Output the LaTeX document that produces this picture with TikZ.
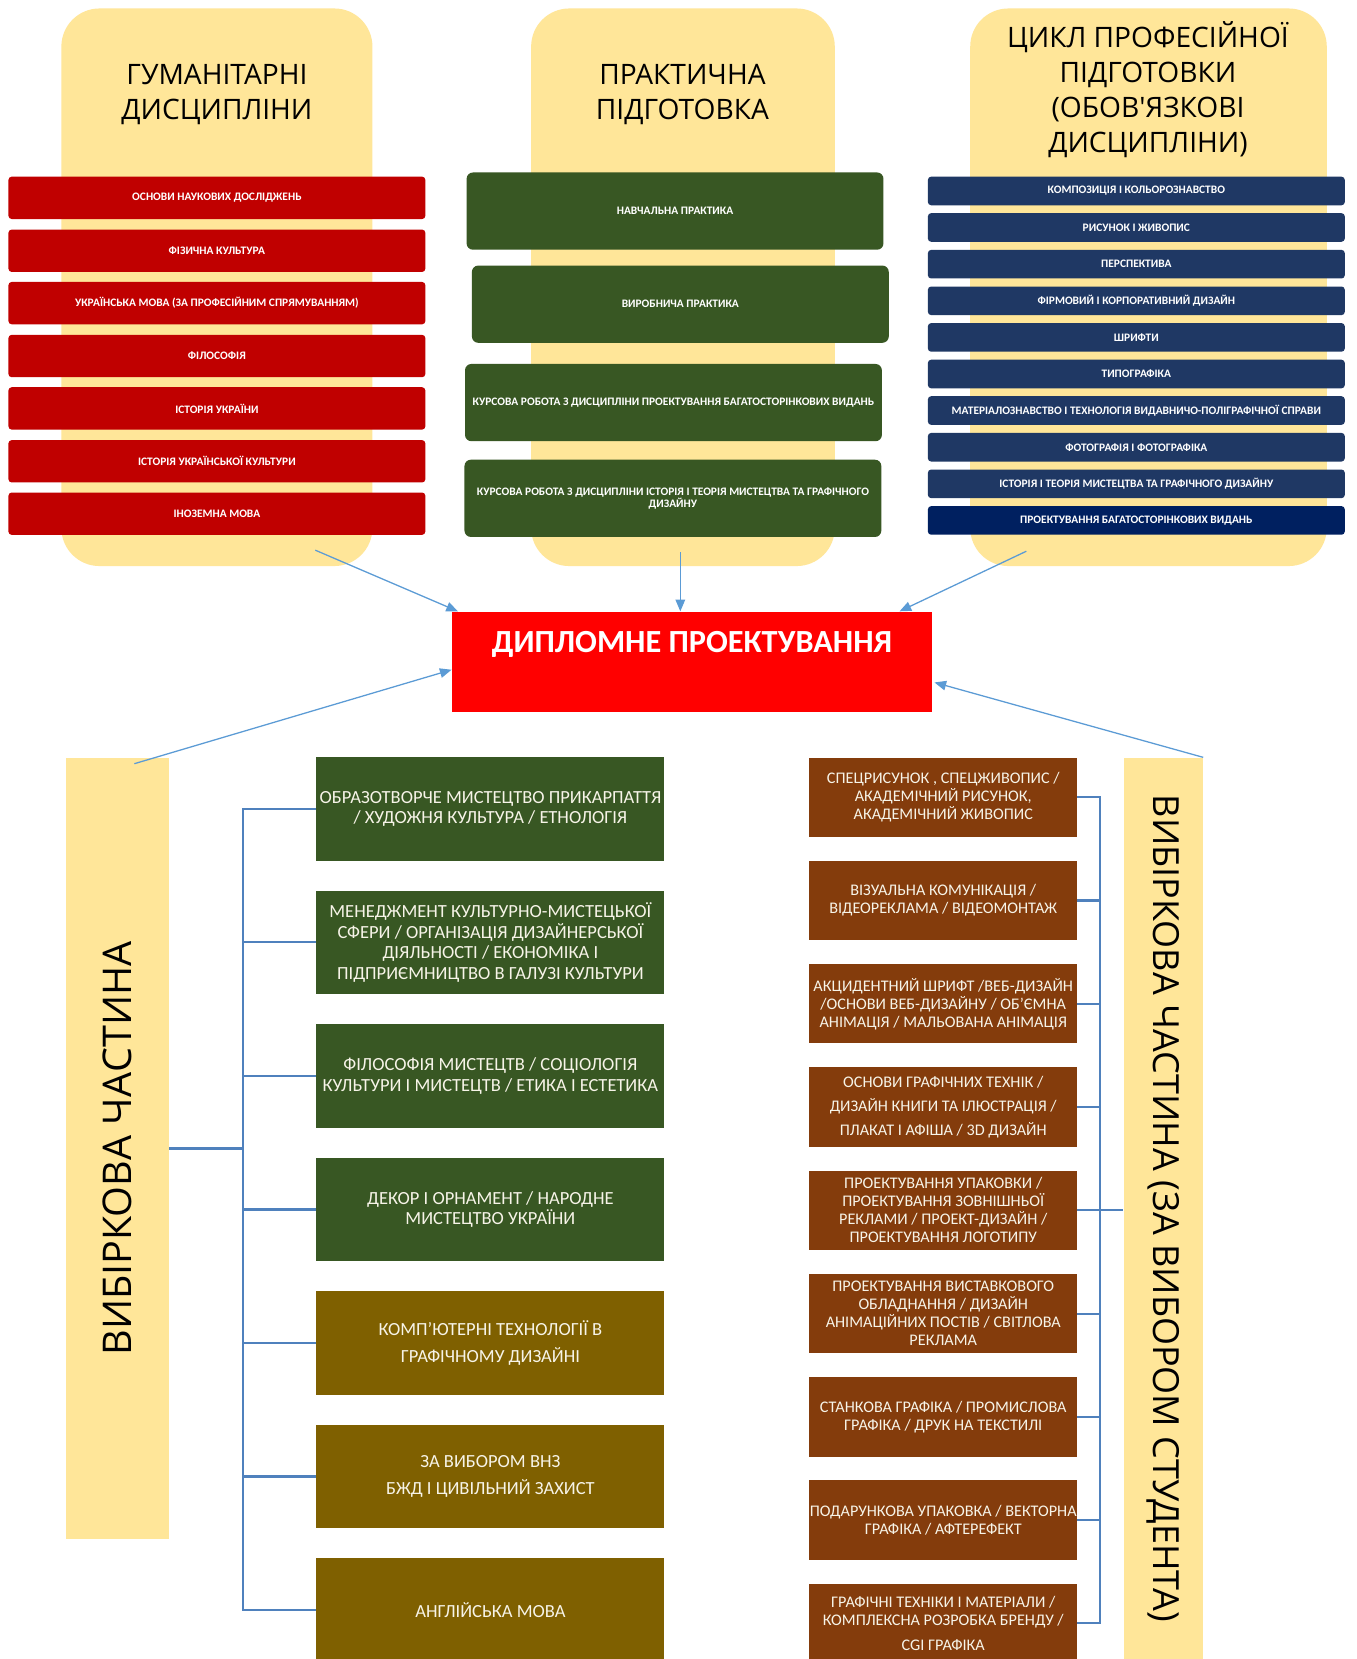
\documentclass[tikz,border=0pt]{standalone}
\usepackage{fontspec}
\setmainfont{Carlito}
\newfontfamily\headfont{Open Sans}
\usepackage{graphicx}
\usepackage{tikz}
\usetikzlibrary{shapes,arrows.meta,positioning,calc}
\definecolor{panelcream}{RGB}{255,230,153}
\definecolor{humred}{RGB}{192,0,0}
\definecolor{pracgreen}{RGB}{56,87,35}
\definecolor{profnavy}{RGB}{31,56,100}
\definecolor{profdark}{RGB}{0,32,96}
\definecolor{diplred}{RGB}{255,0,0}
\definecolor{electolive}{RGB}{127,96,0}
\definecolor{electbrown}{RGB}{132,60,12}
\definecolor{arrowblue}{RGB}{91,155,213}
\definecolor{treeblue}{RGB}{79,129,189}
\definecolor{boxtext}{RGB}{247,244,232}

\tikzset{
  panel/.style={rectangle, rounded corners=36pt, fill=panelcream, inner sep=0pt},
  sidebar/.style={rectangle, fill=panelcream, inner sep=0pt, font=\headfont\fontsize{37.4}{40}\selectfont},
  paneltitle/.style={align=center, font=\headfont\fontsize{26.6}{33}\selectfont},
  smallbar/.style={rectangle, rounded corners=3pt, minimum width=394pt, inner sep=0pt, text=white, align=center, font=\bfseries\fontsize{10.8}{11.5}\selectfont},
  redbar/.style={smallbar, fill=humred, minimum height=40pt},
  navybar/.style={smallbar, fill=profnavy, minimum height=27pt},
  greenbar/.style={smallbar, fill=pracgreen, rounded corners=6pt, minimum height=73pt},
  diplbox/.style={rectangle, fill=diplred, minimum width=454pt, minimum height=95pt, inner sep=0pt, text height=22pt, text depth=39pt, text=white, font=\bfseries\fontsize{30.5}{34}\selectfont},
  leftbox/.style={rectangle, minimum width=329pt, minimum height=98pt, inner sep=0pt, align=center, text=boxtext, font=\fontsize{17.5}{19.3}\selectfont},
  rightbox/.style={rectangle, fill=electbrown, minimum width=253pt, minimum height=75pt, inner sep=0pt, align=center, text=boxtext, font=\fontsize{15.3}{17}\selectfont},
  treeline/.style={draw=treeblue, line width=2pt},
  flowarrow/.style={draw=arrowblue, line width=1.2pt, -{Triangle[length=11pt,width=9pt]}}
}

\begin{document}
\begin{tikzpicture}[x=1pt, y=-1pt]
    \path[fill=white, use as bounding box] (0,0) rectangle (1282,1568);

    % Top panels
    \node[panel, minimum width=294pt, minimum height=527pt] (humpanel) at (205,271.5) {};
    \node[panel, minimum width=287pt, minimum height=527pt] (pracpanel) at (645.5,271.5) {};
    \node[panel, minimum width=337pt, minimum height=527pt] (profpanel) at (1085.5,271.5) {};

    \node[paneltitle] (humtitle) at (205,89) {ГУМАНІТАРНІ\\ДИСЦИПЛІНИ};
    \node[paneltitle] (practitle) at (645,89) {ПРАКТИЧНА\\ПІДГОТОВКА};
    \node[paneltitle] (proftitle) at (1085,85) {ЦИКЛ ПРОФЕСІЙНОЇ\\ПІДГОТОВКИ\\(ОБОВ'ЯЗКОВІ\\ДИСЦИПЛІНИ)};

    % Humanities
    \node[redbar] (hum1) at (205,187) {ОСНОВИ НАУКОВИХ ДОСЛІДЖЕНЬ};
    \node[redbar] (hum2) at (205,237) {ФІЗИЧНА КУЛЬТУРА};
    \node[redbar] (hum3) at (205,286.5) {УКРАЇНСЬКА МОВА (ЗА ПРОФЕСІЙНИМ СПРЯМУВАННЯМ)};
    \node[redbar] (hum4) at (205,336.5) {ФІЛОСОФІЯ};
    \node[redbar] (hum5) at (205,386) {ІСТОРІЯ УКРАЇНИ};
    \node[redbar] (hum6) at (205,436) {ІСТОРІЯ УКРАЇНСЬКОЇ КУЛЬТУРИ};
    \node[redbar] (hum7) at (205,485.5) {ІНОЗЕМНА МОВА};

    % Practice
    \node[greenbar] (prac1) at (638,199.5) {НАВЧАЛЬНА ПРАКТИКА};
    \node[greenbar] (prac2) at (643,287.5) {ВИРОБНИЧА ПРАКТИКА};
    \node[greenbar] (prac3) at (636.5,380.5) {КУРСОВА РОБОТА З ДИСЦИПЛІНИ ПРОЕКТУВАННЯ БАГАТОСТОРІНКОВИХ ВИДАНЬ};
    \node[greenbar] (prac4) at (636,471) {КУРСОВА РОБОТА З ДИСЦИПЛІНИ ІСТОРІЯ І ТЕОРІЯ МИСТЕЦТВА ТА ГРАФІЧНОГО\\ДИЗАЙНУ};

    % Professional cycle
    \node[navybar] (prof1) at (1074,180.5) {КОМПОЗИЦІЯ І КОЛЬОРОЗНАВСТВО};
    \node[navybar] (prof2) at (1074,215) {РИСУНОК І ЖИВОПИС};
    \node[navybar] (prof3) at (1074,249.7) {ПЕРСПЕКТИВА};
    \node[navybar] (prof4) at (1074,284.3) {ФІРМОВИЙ І КОРПОРАТИВНИЙ ДИЗАЙН};
    \node[navybar] (prof5) at (1074,318.9) {ШРИФТИ};
    \node[navybar] (prof6) at (1074,353.5) {ТИПОГРАФІКА};
    \node[navybar] (prof7) at (1074,388) {МАТЕРІАЛОЗНАВСТВО І ТЕХНОЛОГІЯ ВИДАВНИЧО-ПОЛІГРАФІЧНОЇ СПРАВИ};
    \node[navybar] (prof8) at (1074,422.7) {ФОТОГРАФІЯ І ФОТОГРАФІКА};
    \node[navybar] (prof9) at (1074,457.3) {ІСТОРІЯ І ТЕОРІЯ МИСТЕЦТВА ТА ГРАФІЧНОГО ДИЗАЙНУ};
    \node[navybar, fill=profdark] (prof10) at (1074,491.9) {ПРОЕКТУВАННЯ БАГАТОСТОРІНКОВИХ ВИДАНЬ};

    % Diploma
    \node[diplbox] (diploma) at (654,625.5) {ДИПЛОМНЕ ПРОЕКТУВАННЯ};

    % Side bars
    \node[sidebar, minimum width=98pt, minimum height=739pt] (leftbar) at (111,1085.5) {\rotatebox{90}{ВИБІРКОВА ЧАСТИНА}};
    \node[sidebar, minimum width=75pt, minimum height=852pt, font=\headfont\fontsize{34}{38}\selectfont] (rightbar) at (1099.5,1142) {\rotatebox{-90}{ВИБІРКОВА ЧАСТИНА (ЗА ВИБОРОМ СТУДЕНТА)}};

    % Elective part, left
    \node[leftbox, fill=pracgreen] (elect1) at (463.5,764.5) {ОБРАЗОТВОРЧЕ МИСТЕЦТВО ПРИКАРПАТТЯ\\/ ХУДОЖНЯ КУЛЬТУРА / ЕТНОЛОГІЯ};
    \node[leftbox, fill=pracgreen] (elect2) at (463.5,890.7) {МЕНЕДЖМЕНТ КУЛЬТУРНО-МИСТЕЦЬКОЇ\\СФЕРИ / ОРГАНІЗАЦІЯ ДИЗАЙНЕРСЬКОЇ\\ДІЯЛЬНОСТІ / ЕКОНОМІКА І\\ПІДПРИЄМНИЦТВО В ГАЛУЗІ КУЛЬТУРИ};
    \node[leftbox, fill=pracgreen] (elect3) at (463.5,1016.9) {ФІЛОСОФІЯ МИСТЕЦТВ / СОЦІОЛОГІЯ\\КУЛЬТУРИ І МИСТЕЦТВ / ЕТИКА І ЕСТЕТИКА};
    \node[leftbox, fill=pracgreen] (elect4) at (463.5,1143.1) {ДЕКОР І ОРНАМЕНТ / НАРОДНЕ\\МИСТЕЦТВО УКРАЇНИ};
    \node[leftbox, fill=electolive] (elect5) at (463.5,1269.3) {КОМП'ЮТЕРНІ ТЕХНОЛОГІЇ  В\\[7pt]ГРАФІЧНОМУ ДИЗАЙНІ};
    \node[leftbox, fill=electolive] (elect6) at (463.5,1395.5) {ЗА ВИБОРОМ ВНЗ\\[7pt]БЖД І ЦИВІЛЬНИЙ ЗАХИСТ};
    \node[leftbox, fill=electolive] (elect7) at (463.5,1521.7) {АНГЛІЙСЬКА МОВА};

    % Elective part, right
    \node[rightbox] (spec1) at (891.5,753.5) {СПЕЦРИСУНОК , СПЕЦЖИВОПИС /\\АКАДЕМІЧНИЙ РИСУНОК,\\АКАДЕМІЧНИЙ ЖИВОПИС};
    \node[rightbox] (spec2) at (891.5,851.1) {ВІЗУАЛЬНА КОМУНІКАЦІЯ /\\ВІДЕОРЕКЛАМА / ВІДЕОМОНТАЖ};
    \node[rightbox] (spec3) at (891.5,948.7) {АКЦИДЕНТНИЙ ШРИФТ /ВЕБ-ДИЗАЙН\\/ОСНОВИ ВЕБ-ДИЗАЙНУ / ОБ'ЄМНА\\АНІМАЦІЯ / МАЛЬОВАНА АНІМАЦІЯ};
    \node[rightbox] (spec4) at (891.5,1046.3) {ОСНОВИ ГРАФІЧНИХ ТЕХНІК /\\[6pt]ДИЗАЙН КНИГИ ТА ІЛЮСТРАЦІЯ /\\[6pt]ПЛАКАТ І АФІША / 3D ДИЗАЙН};
    \node[rightbox] (spec5) at (891.5,1143.9) {ПРОЕКТУВАННЯ УПАКОВКИ /\\ПРОЕКТУВАННЯ ЗОВНІШНЬОЇ\\РЕКЛАМИ / ПРОЕКТ-ДИЗАЙН /\\ПРОЕКТУВАННЯ ЛОГОТИПУ};
    \node[rightbox] (spec6) at (891.5,1241.5) {ПРОЕКТУВАННЯ ВИСТАВКОВОГО\\ОБЛАДНАННЯ / ДИЗАЙН\\АНІМАЦІЙНИХ ПОСТІВ / СВІТЛОВА\\РЕКЛАМА};
    \node[rightbox] (spec7) at (891.5,1339.1) {СТАНКОВА ГРАФІКА / ПРОМИСЛОВА\\ГРАФІКА / ДРУК НА ТЕКСТИЛІ};
    \node[rightbox] (spec8) at (891.5,1436.7) {ПОДАРУНКОВА УПАКОВКА / ВЕКТОРНА\\ГРАФІКА / АФТЕРЕФЕКТ};
    \node[rightbox] (spec9) at (891.5,1534.3) {ГРАФІЧНІ ТЕХНІКИ І МАТЕРІАЛИ /\\КОМПЛЕКСНА РОЗРОБКА БРЕНДУ /\\[6pt]CGI ГРАФІКА};

    % Arrows to diploma
    \coordinate (humfoot) at (298,520);
    \coordinate (pracfoot) at (643,522);
    \coordinate (proffoot) at (970,521);
    \draw[flowarrow] (humfoot) -- ($(diploma.north west)+(6,0)$);
    \draw[flowarrow] (pracfoot) -- (pracfoot |- diploma.north);
    \draw[flowarrow] (proffoot) -- ($(diploma.north east)+(-31,0)$);
    \draw[flowarrow] ($(leftbar.north)+(16,6)$) -- ($(diploma.west)+(0,7.5)$);
    \draw[flowarrow] (rightbar.north east) -- ($(diploma.east)+(2,19.5)$);

    % Left tree
    \coordinate (ljoin) at (230,1085.5);
    \draw[treeline] (leftbar.east) -- (ljoin);
    \draw[treeline] (ljoin) |- (elect1.west);
    \draw[treeline] (ljoin) |- (elect2.west);
    \draw[treeline] (ljoin) |- (elect3.west);
    \draw[treeline] (ljoin) |- (elect4.west);
    \draw[treeline] (ljoin) |- (elect5.west);
    \draw[treeline] (ljoin) |- (elect6.west);
    \draw[treeline] (ljoin) |- (elect7.west);

    % Right tree
    \coordinate (rjoin) at (1040,1143.9);
    \draw[treeline] (rjoin) -- (rightbar.west |- rjoin);
    \draw[treeline] (rjoin) |- (spec1.east);
    \draw[treeline] (rjoin) |- (spec2.east);
    \draw[treeline] (rjoin) |- (spec3.east);
    \draw[treeline] (rjoin) |- (spec4.east);
    \draw[treeline] (rjoin) |- (spec5.east);
    \draw[treeline] (rjoin) |- (spec6.east);
    \draw[treeline] (rjoin) |- (spec7.east);
    \draw[treeline] (rjoin) |- (spec8.east);
    \draw[treeline] (rjoin) |- (spec9.east);
\end{tikzpicture}
\end{document}
